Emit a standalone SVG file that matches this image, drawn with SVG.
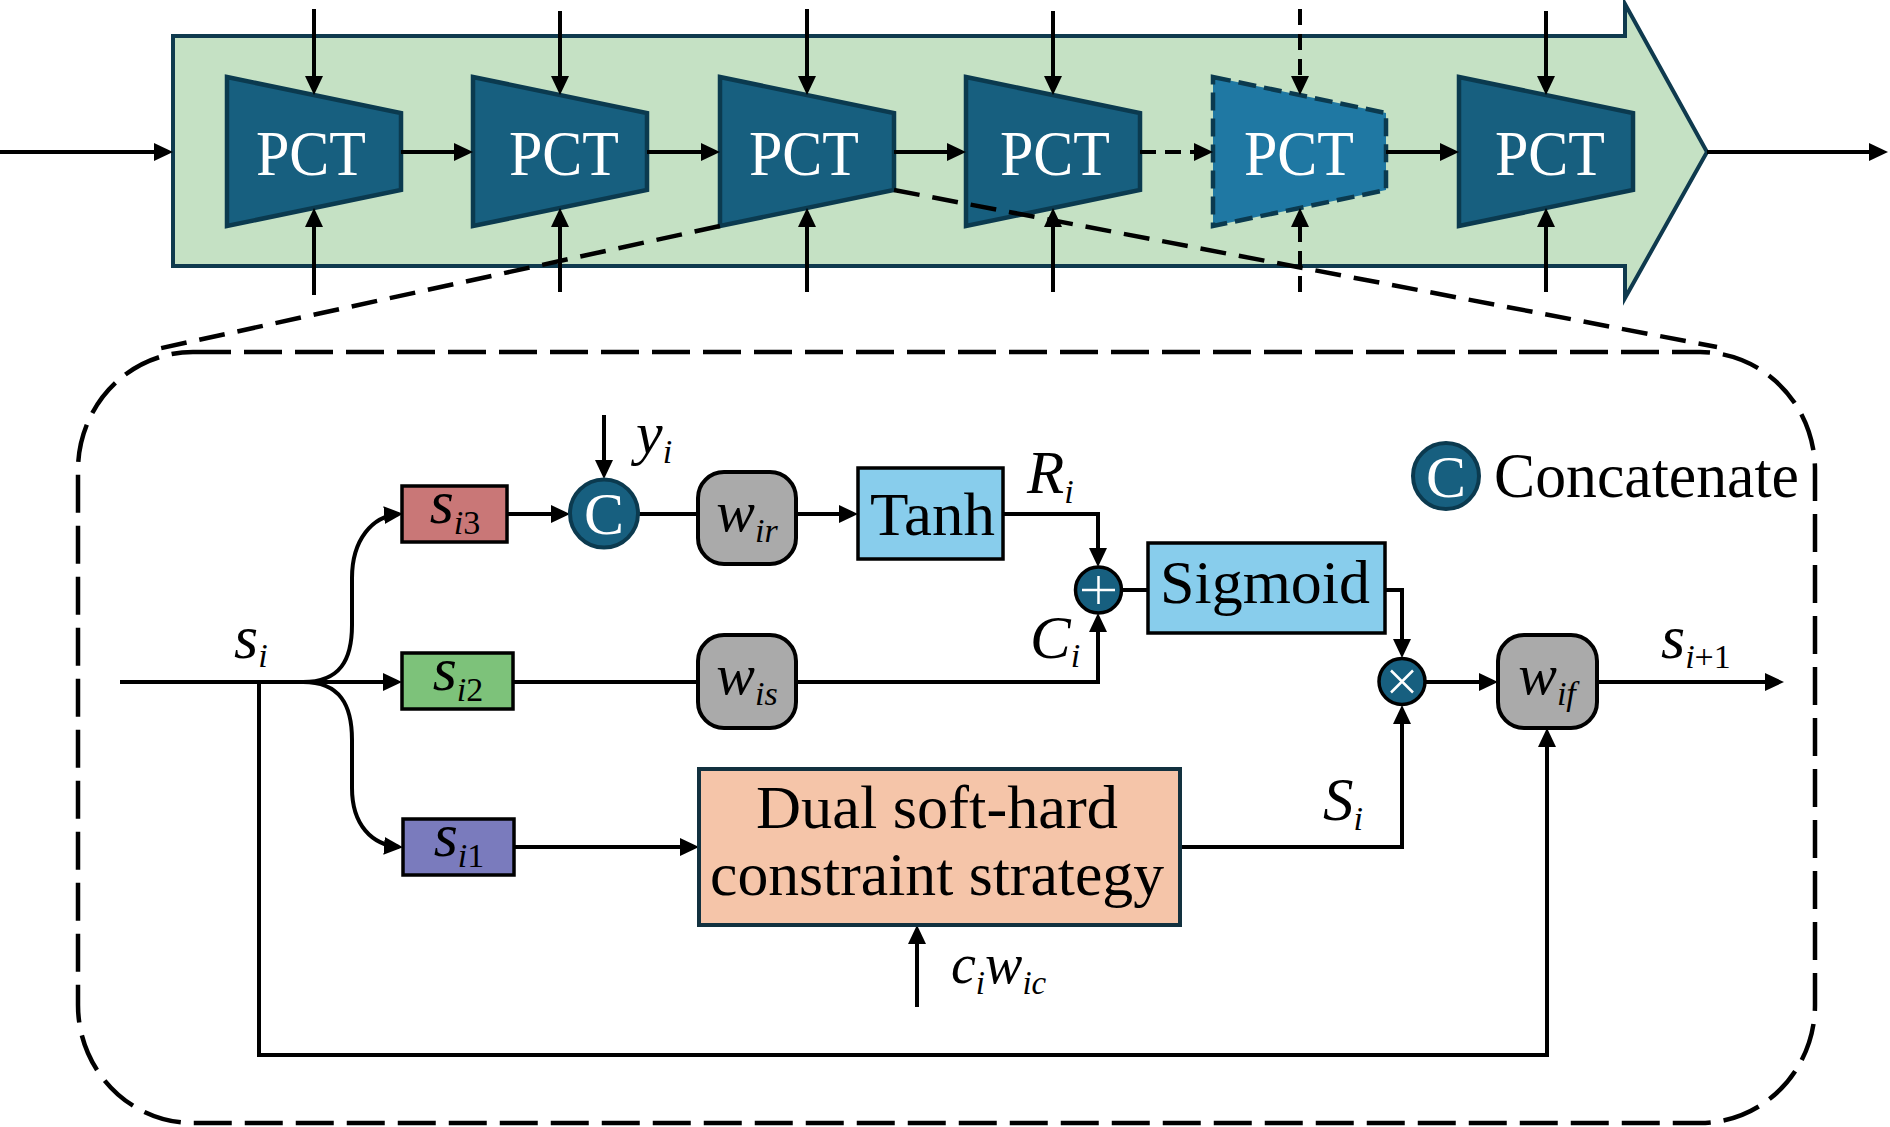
<svg xmlns="http://www.w3.org/2000/svg" width="1890" height="1127" viewBox="0 0 1890 1127">
<defs>
<style>
text{font-family:'Liberation Serif','Tinos','Times New Roman','DejaVu Serif',serif}
.pct{fill:#175f7f;stroke:#0b3a4f;stroke-width:4.5;stroke-linejoin:miter}
.pctd{fill:#1f78a3;stroke:#0b3a4f;stroke-width:4.5;stroke-dasharray:18 8}
.pt{font-size:63px;fill:#fff}
.ln{fill:none;stroke:#000;stroke-width:4}
.ar{fill:none;stroke:#000;stroke-width:4;marker-end:url(#ah)}
.dsh{stroke-dasharray:16 9}
.big{fill:none;stroke:#000;stroke-width:4.5;stroke-dasharray:38 13}
.diag{fill:none;stroke:#000;stroke-width:4.5;stroke-dasharray:26 13}
.box{stroke:#000;stroke-width:3.5}
.wb{fill:#aaaaaa;stroke:#000;stroke-width:4}
.lbl{font-size:62px;fill:#000}
.mi{font-style:italic;font-size:58px;fill:#000}
.sub{font-size:34px}
.up{font-style:normal}
.cc{fill:#175f7f;stroke:#0b3a4f;stroke-width:4}
.op{fill:#175f7f;stroke:#000;stroke-width:3.5}
.wl{stroke:#fff;stroke-width:2.5}
.wt{fill:#fff}
</style>
<marker id="ah" markerUnits="userSpaceOnUse" markerWidth="19" markerHeight="18" refX="15" refY="9" orient="auto">
<path d="M0,0 L19,9 L0,18 z" fill="#000"/>
</marker>
</defs>
<rect width="1890" height="1127" fill="#fff"/>

<g id="pipeline">
<polygon points="173,36 1625,36 1625,4 1707,152 1625,298 1625,266 173,266" fill="#c5e1c4" stroke="#0f3a4e" stroke-width="4"/>
</g>

<g id="pct1"><polygon class="pct" points="227,77 401,113 401,190 227,226"/><text class="pt" x="256" y="175" textLength="110" lengthAdjust="spacingAndGlyphs">PCT</text></g>
<g id="pct2"><polygon class="pct" points="473,77 647,113 647,190 473,226"/><text class="pt" x="509" y="175" textLength="110" lengthAdjust="spacingAndGlyphs">PCT</text></g>
<g id="pct3"><polygon class="pct" points="720,77 894,113 894,190 720,226"/><text class="pt" x="749" y="175" textLength="110" lengthAdjust="spacingAndGlyphs">PCT</text></g>
<g id="pct4"><polygon class="pct" points="966,77 1140,113 1140,190 966,226"/><text class="pt" x="1000" y="175" textLength="110" lengthAdjust="spacingAndGlyphs">PCT</text></g>
<g id="pct5"><polygon class="pctd" points="1213,77 1386,113 1386,190 1213,226"/><text class="pt" x="1244" y="175" textLength="110" lengthAdjust="spacingAndGlyphs">PCT</text></g>
<g id="pct6"><polygon class="pct" points="1459,77 1633,113 1633,190 1459,226"/><text class="pt" x="1495" y="175" textLength="110" lengthAdjust="spacingAndGlyphs">PCT</text></g>

<g id="connectors">
<path class="ar" d="M0,152 H169"/>
<path class="ar" d="M401,152 H469"/>
<path class="ar" d="M647,152 H716"/>
<path class="ar" d="M894,152 H962"/>
<path class="ar dsh" d="M1140,152 H1209"/>
<path class="ar" d="M1386,152 H1455"/>
<path class="ar" d="M1707,152 H1884"/>
<path class="ar" d="M314,9 V91"/><path class="ar" d="M314,295 V212"/>
<path class="ar" d="M560,11 V91"/><path class="ar" d="M560,292 V212"/>
<path class="ar" d="M807,9 V91"/><path class="ar" d="M807,292 V212"/>
<path class="ar" d="M1053,11 V91"/><path class="ar" d="M1053,292 V212"/>
<path class="ar dsh" d="M1300,9 V91"/><path class="ar dsh" d="M1300,292 V212"/>
<path class="ar" d="M1546,11 V91"/><path class="ar" d="M1546,292 V212"/>
<path class="diag" d="M720,226 L157,349"/>
<path class="diag" d="M894,190 L1717,347"/>

<path class="ln" d="M120,682 H303"/>
<path class="ar" d="M259,682 V1055 H1547 V732"/>
<path class="ar" d="M303,682 H398"/>
<path class="ar" d="M303,682 C340,682 352,660 352,625 L352,578 C352,540 372,516 399,514"/>
<path class="ar" d="M303,682 C340,682 352,705 352,740 L352,788 C352,825 372,845 399,847"/>
<path class="ar" d="M507,514 H566"/>
<path class="ar" d="M604,415 V475"/>
<path class="ln" d="M638,514 H698"/>
<path class="ar" d="M796,514 H854"/>
<path class="ar" d="M1003,514 H1098 V563"/>
<path class="ln" d="M513,682 H698"/>
<path class="ar" d="M796,682 H1098 V617"/>
<path class="ln" d="M1121,590 H1148"/>
<path class="ar" d="M1385,590 H1402 V654"/>
<path class="ar" d="M1425,682 H1494"/>
<path class="ar" d="M1597,682 H1780"/>
<path class="ar" d="M514,847 H695"/>
<path class="ar" d="M1180,847 H1402 V709"/>
<path class="ar" d="M917,1007 V929"/>
</g>

<g id="detail-frame"><rect class="big" x="78" y="352" width="1737" height="771" rx="115" ry="118"/></g>

<g id="si-label"><text class="mi" x="234" y="658" style="font-size:62px">s<tspan class="sub" dy="9">i</tspan></text></g>

<g id="si3"><rect class="box" x="402" y="486" width="105" height="56" fill="#c97777"/>
<text class="mi" x="455" y="523" text-anchor="middle" style="font-size:62px">s<tspan class="sub" dy="11">i<tspan class="up">3</tspan></tspan></text></g>
<g id="si2"><rect class="box" x="402" y="653" width="111" height="56" fill="#7dc27a"/>
<text class="mi" x="458" y="690" text-anchor="middle" style="font-size:62px">s<tspan class="sub" dy="11">i<tspan class="up">2</tspan></tspan></text></g>
<g id="si1"><rect class="box" x="403" y="819" width="111" height="56" fill="#7a7bbd"/>
<text class="mi" x="459" y="856" text-anchor="middle" style="font-size:62px">s<tspan class="sub" dy="11">i<tspan class="up">1</tspan></tspan></text></g>

<g id="concat"><circle class="cc" cx="604" cy="513.5" r="34"/><text class="lbl wt" x="604" y="534" text-anchor="middle" style="font-size:60px">C</text></g>
<g id="yi-label"><text class="mi" x="636" y="453" style="font-size:60px">y<tspan class="sub" dy="10">i</tspan></text></g>

<g id="wir"><rect class="wb" x="698" y="472" width="98" height="92" rx="26"/>
<text class="mi" x="747" y="531" text-anchor="middle">w<tspan class="sub" dy="11">ir</tspan></text></g>
<g id="wis"><rect class="wb" x="698" y="635" width="98" height="93" rx="26"/>
<text class="mi" x="747" y="694" text-anchor="middle">w<tspan class="sub" dy="11">is</tspan></text></g>

<g id="tanh"><rect class="box" x="858" y="468" width="145" height="91" fill="#88cdec"/>
<text class="lbl" x="870" y="535" textLength="125" lengthAdjust="spacingAndGlyphs">Tanh</text></g>
<g id="ri-label"><text class="mi" x="1027" y="493" style="font-size:61px">R<tspan class="sub" dy="10">i</tspan></text></g>
<g id="ci-label"><text class="mi" x="1030" y="658" style="font-size:61px">C<tspan class="sub" dy="9">i</tspan></text></g>

<g id="plus"><circle class="op" cx="1098.5" cy="590" r="23"/>
<path class="wl" d="M1082,590 H1115 M1098.5,576 V604"/></g>

<g id="sigmoid"><rect class="box" x="1148" y="543" width="237" height="90" fill="#88cdec"/>
<text class="lbl" x="1160" y="603" textLength="210" lengthAdjust="spacingAndGlyphs">Sigmoid</text></g>

<g id="times"><circle class="op" cx="1402" cy="681.5" r="23"/>
<path class="wl" d="M1391,670.5 L1413,692.5 M1413,670.5 L1391,692.5"/></g>

<g id="wif"><rect class="wb" x="1498" y="635" width="99" height="93" rx="26"/>
<text class="mi" x="1547" y="694" text-anchor="middle">w<tspan class="sub" dy="11">if</tspan></text></g>
<g id="sout-label"><text class="mi" x="1661" y="658" style="font-size:62px">s<tspan class="sub" dy="10">i<tspan class="up">+1</tspan></tspan></text></g>

<g id="dual"><rect x="699" y="769" width="481" height="156" fill="#f5c5a9" stroke="#12313f" stroke-width="4"/>
<text class="lbl" x="756" y="828" textLength="362" lengthAdjust="spacingAndGlyphs">Dual soft-hard</text>
<text class="lbl" x="710" y="895" textLength="454" lengthAdjust="spacingAndGlyphs">constraint strategy</text></g>
<g id="Si-label"><text class="mi" x="1323" y="820" style="font-size:61px">S<tspan class="sub" dy="10">i</tspan></text></g>
<g id="ciwic-label"><text class="mi" x="951" y="983" style="font-size:56px">c<tspan class="sub" dy="11" style="font-size:33px">i</tspan><tspan dy="-11">w</tspan><tspan class="sub" dy="11" style="font-size:33px">ic</tspan></text></g>

<g id="legend"><circle class="cc" cx="1446" cy="476" r="33"/><text class="lbl wt" x="1446" y="497" text-anchor="middle" style="font-size:60px">C</text>
<text class="lbl" x="1494" y="497" textLength="305" lengthAdjust="spacingAndGlyphs" style="font-size:63px">Concatenate</text></g>
</svg>
